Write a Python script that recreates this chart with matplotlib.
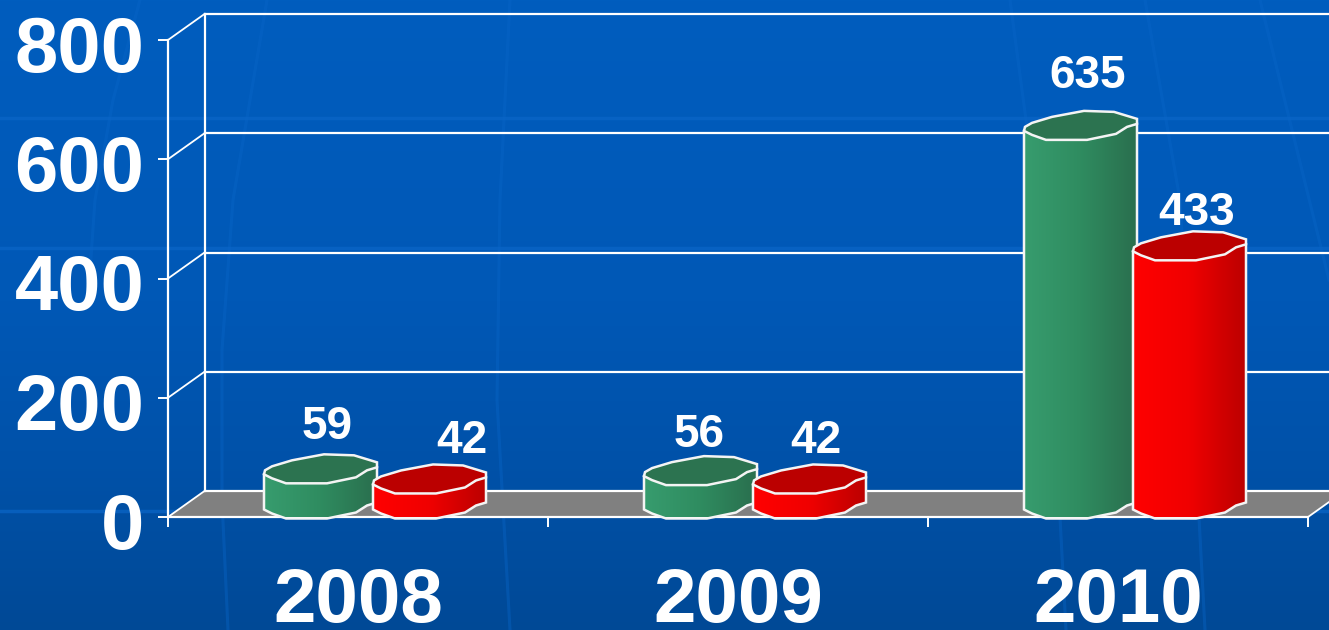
import numpy as np
import matplotlib
matplotlib.use("Agg")
import matplotlib.pyplot as plt
from matplotlib.colors import LinearSegmentedColormap
from matplotlib.patches import Polygon
from matplotlib.transforms import ScaledTranslation

W, H = 1329, 630
DPI = 100

years = ["2008", "2009", "2010"]
green_values = [59, 56, 635]
red_values = [42, 42, 433]
y_ticks = [0, 200, 400, 600, 800]

# front plane of the 3d box, in figure pixels
LEFT, RIGHT, BASE, TOP = 168, 1308, 517, 40
PX_X = (RIGHT - LEFT) / 3.0
PX_Y = (BASE - TOP) / 800.0

# depth of the box, and where the cylinders sit inside it
DEPTH_X = 36.5 / PX_X
DEPTH_Y = 26 / PX_Y
BAR_DX = 17.5 / PX_X
BAR_DY = 12.5 / PX_Y
BAR_SHIFT = 54.5 / PX_X

# outline of the low-poly cylinder cap, pixels around its centre (y down)
CAP = np.array([
    (-57, 5), (-49, 9), (-35, 14), (6, 14), (35, 8), (46, 1), (56, -2),
    (56, -7), (33, -14), (3, -15), (-29, -9), (-49, -3), (-56, 1),
], dtype=float)
CAP_X = CAP[:, 0] / PX_X
CAP_Y = -CAP[:, 1] / PX_Y

# label offsets from the cap centre, in pixels
green_label_off = [(6, 42), (-2, 36), (7, 50)]
red_label_off = [(32, 38), (6, 38), (7, 33)]

GREEN = LinearSegmentedColormap.from_list("g", ["#379C6E", "#2F8C60", "#2A6F4E"])
RED = LinearSegmentedColormap.from_list("r", ["#FF0000", "#F00000", "#BC0000"])
GREEN_CAP = "#2C7350"
RED_CAP = "#BB0000"
EDGE = "#F4F4F4"


def draw_background(fig):
    bg = fig.add_axes([0, 0, 1, 1], zorder=0)
    grad = np.zeros((H, 1, 3))
    stops_y = [0, 300, 450, 630]
    stops_c = np.array([(0, 93, 190), (0, 88, 182), (0, 82, 170), (0, 73, 150)]) / 255.0
    for i in range(3):
        grad[:, 0, i] = np.interp(np.arange(H), stops_y, stops_c[:, i])
    bg.imshow(grad, aspect="auto", extent=[0, W, H, 0])
    faint = "#0A66C8"
    for y in [118, 248, 511]:
        bg.plot([0, W], [y, y], color=faint, lw=2.5, alpha=0.7)
    meridians = [
        ([140, 113, 95, 88], [0, 100, 200, 300]),
        ([267, 233, 222, 222, 228], [0, 200, 350, 500, 630]),
        ([510, 500, 497, 510], [0, 200, 400, 630]),
        ([1010, 1030, 1058, 1066], [0, 150, 480, 630]),
        ([1145, 1180, 1197, 1205], [0, 200, 480, 630]),
        ([1260, 1329], [0, 280]),
    ]
    for xs, ys in meridians:
        bg.plot(xs, ys, color=faint, lw=2.2, alpha=0.4)
    bg.set_xlim(0, W)
    bg.set_ylim(H, 0)
    bg.axis("off")


def draw_box(ax):
    floor = Polygon(
        [(0, 0), (3, 0), (3 + DEPTH_X, DEPTH_Y), (DEPTH_X, DEPTH_Y)],
        closed=True, facecolor="#808080", edgecolor="none", clip_on=False, zorder=1,
    )
    ax.add_patch(floor)
    for v in y_ticks:
        ax.plot([DEPTH_X, 3 + DEPTH_X], [v + DEPTH_Y, v + DEPTH_Y],
                color="white", lw=1.6, clip_on=False, zorder=2)
        ax.plot([0, DEPTH_X], [v, v + DEPTH_Y], color="white", lw=1.3, clip_on=False, zorder=2)
    ax.plot([DEPTH_X, DEPTH_X], [DEPTH_Y, 800 + DEPTH_Y], color="white", lw=1.6,
            clip_on=False, zorder=2)
    ax.plot([3, 3 + DEPTH_X], [0, DEPTH_Y], color="white", lw=1.3, clip_on=False, zorder=2)


def draw_cylinder(ax, x, value, cmap, cap_color, z):
    y0 = BAR_DY
    y1 = BAR_DY + value
    # lower chain of the cap at the base, straight sides up to the top cap
    lower = np.column_stack([x + CAP_X[:7], y0 + CAP_Y[:7]])
    upper = np.array([(x + CAP_X[6], y1 + CAP_Y[6]), (x + CAP_X[0], y1 + CAP_Y[0])])
    outline = np.vstack([lower, upper])
    body = Polygon(outline, closed=True, facecolor="none", edgecolor="none",
                   clip_on=False, zorder=z)
    ax.add_patch(body)
    grad = np.linspace(0, 1, 64).reshape(1, -1)
    im = ax.imshow(grad, cmap=cmap, aspect="auto", zorder=z, interpolation="bilinear",
                   extent=[x + CAP_X.min(), x + CAP_X.max(), y0 - 40, y1 + 40])
    im.set_clip_path(body)
    ax.add_patch(Polygon(outline, closed=True, facecolor="none", edgecolor=EDGE,
                         lw=1.8, clip_on=False, zorder=z + 0.1))
    cap = np.column_stack([x + CAP_X, y1 + CAP_Y])
    ax.add_patch(Polygon(cap, closed=True, facecolor=cap_color, edgecolor=EDGE,
                         lw=1.8, clip_on=False, zorder=z + 0.2))


def main():
    fig = plt.figure(figsize=(W / DPI, H / DPI), dpi=DPI)
    draw_background(fig)

    ax = fig.add_axes([LEFT / W, 1 - BASE / H, (RIGHT - LEFT) / W, (BASE - TOP) / H], zorder=1)
    ax.patch.set_alpha(0)

    draw_box(ax)
    z = 3
    for i in range(len(years)):
        cx = i + 0.5 + BAR_DX
        draw_cylinder(ax, cx - BAR_SHIFT, green_values[i], GREEN, GREEN_CAP, z)
        draw_cylinder(ax, cx + BAR_SHIFT, red_values[i], RED, RED_CAP, z + 1)
        for off, val, shift in ((green_label_off[i], green_values[i], -BAR_SHIFT),
                                (red_label_off[i], red_values[i], BAR_SHIFT)):
            ax.annotate(str(val), (cx + shift, BAR_DY + val),
                        xytext=(off[0] * 72 / DPI, off[1] * 72 / DPI),
                        textcoords="offset points", ha="center", va="center",
                        color="white", fontsize=33, fontweight="bold",
                        family="Liberation Sans", zorder=8, annotation_clip=False)
        z += 2

    ax.set_xlim(0, 3)
    ax.set_ylim(0, 800)
    for side in ("top", "right"):
        ax.spines[side].set_visible(False)
    for side in ("left", "bottom"):
        ax.spines[side].set_color("white")
        ax.spines[side].set_linewidth(1.6)
        ax.spines[side].set_zorder(2.5)

    ax.set_yticks(y_ticks)
    ax.set_yticklabels([str(v) for v in y_ticks], fontsize=56, fontweight="bold",
                       color="white", family="Liberation Sans")
    ax.tick_params(axis="y", length=7, width=1.4, color="white", pad=10)
    # labels sit slightly under their ticks in the reference
    nudge = ScaledTranslation(0, -2.5 / 72, fig.dpi_scale_trans)
    for lab in ax.get_yticklabels():
        lab.set_transform(lab.get_transform() + nudge)

    ax.set_xticks([0, 1, 2, 3])
    ax.set_xticklabels([])
    ax.set_xticks([0.5, 1.5, 2.5], minor=True)
    ax.set_xticklabels(years, minor=True, fontsize=55, fontweight="bold",
                       color="white", family="Liberation Sans")
    ax.tick_params(axis="x", which="major", length=7, width=1.4, color="white")
    ax.tick_params(axis="x", which="minor", length=0, pad=36)

    fig.savefig("out.png", dpi=DPI)
    plt.close(fig)


if __name__ == "__main__":
    main()
